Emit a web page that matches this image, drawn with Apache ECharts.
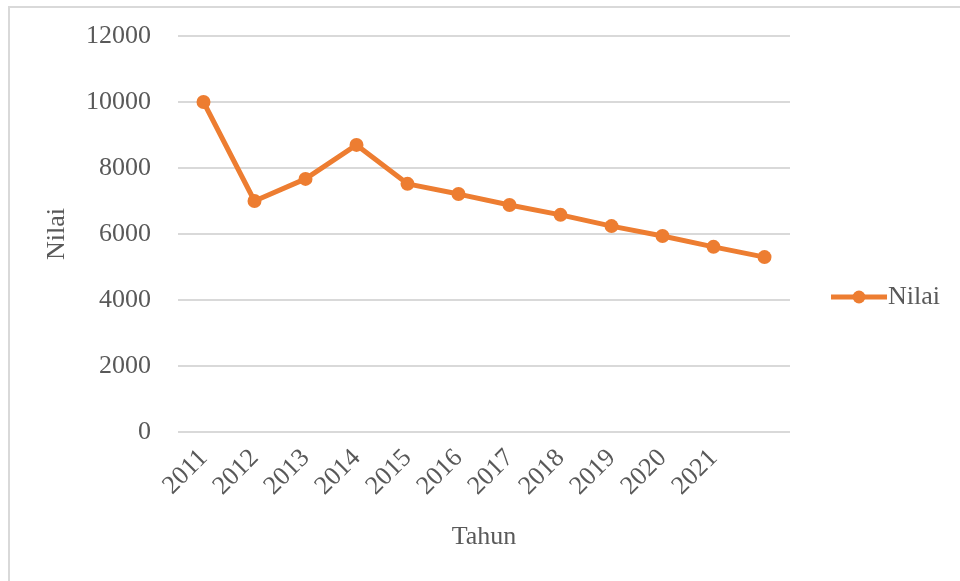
<!DOCTYPE html>
<html>
<head>
<meta charset="utf-8">
<script src="https://cdn.jsdelivr.net/npm/echarts@6/dist/echarts.min.js"></script>
<style>
  html, body { margin: 0; padding: 0; background: #fff; }
  #frame { position: absolute; left: 8px; top: 6px; width: 952px; height: 575px;
           border-top: 2px solid #d9d9d9; border-left: 2px solid #d9d9d9; box-sizing: border-box; }
  #chart { position: absolute; left: 0; top: 0; width: 960px; height: 581px; }
</style>
</head>
<body>
<div id="frame"></div>
<div id="chart"></div>
<script>
  // years on the x axis (the last point has no label in the original)
  var years = ['2011', '2012', '2013', '2014', '2015', '2016', '2017', '2018', '2019', '2020', '2021', '']
  var nilai = [10000, 7000, 7670, 8700, 7520, 7210, 6880, 6580, 6240, 5940, 5610, 5300]

  var font = 'Liberation Serif'
  var textColor = '#595959'
  var orange = '#ED7D31'

  var chart = echarts.init(document.getElementById('chart'))

  var option = {
    animation: false,
    textStyle: { fontFamily: font },
    grid: { left: 178, right: 170, top: 36, bottom: 149 },
    legend: {
      right: 15,
      top: 279,
      itemWidth: 56,
      itemHeight: 16,
      itemGap: 0,
      lineStyle: { width: 5 },
      textStyle: { fontFamily: font, fontSize: 26, color: textColor, padding: [0, 0, 0, -4] },
      data: ['Nilai']
    },
    xAxis: {
      type: 'category',
      data: years,
      boundaryGap: true,
      name: 'Tahun',
      nameLocation: 'middle',
      nameGap: 92,
      nameTextStyle: { fontFamily: font, fontSize: 26, color: textColor },
      axisLine: { show: false },
      axisTick: { show: false },
      axisLabel: { rotate: 45, interval: 0, margin: 22, fontFamily: font, fontSize: 26, color: textColor }
    },
    yAxis: {
      type: 'value',
      min: 0,
      max: 12000,
      interval: 2000,
      name: 'Nilai',
      nameLocation: 'middle',
      nameGap: 108,
      nameTextStyle: { fontFamily: font, fontSize: 26, color: textColor },
      axisLine: { show: false },
      axisTick: { show: false },
      axisLabel: {
        margin: 27, fontFamily: font, fontSize: 26, color: textColor,
        formatter: function (v) { return String(v) }
      },
      splitLine: { lineStyle: { color: '#d9d9d9', width: 2 } }
    },
    series: [
      {
        name: 'Nilai',
        type: 'line',
        data: nilai,
        symbol: 'circle',
        symbolSize: 14,
        lineStyle: { color: orange, width: 5 },
        itemStyle: { color: orange }
      }
    ]
  }

  chart.setOption(option)
</script>
</body>
</html>
